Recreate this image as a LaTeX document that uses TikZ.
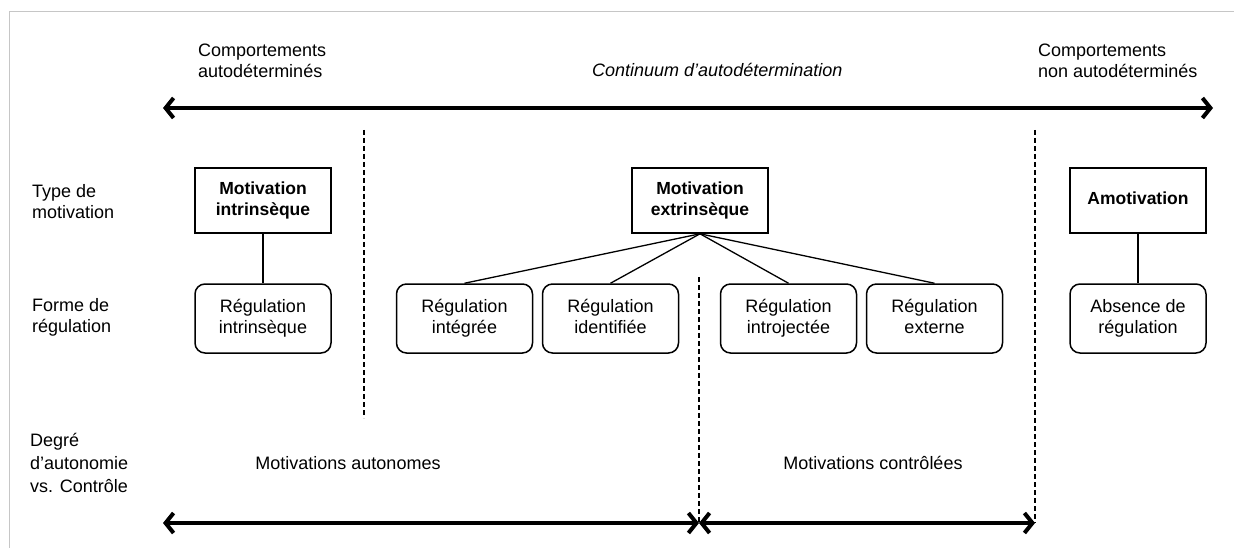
\documentclass[tikz,border=0pt]{standalone}
\usepackage{fontspec}
\setmainfont{Liberation Sans}
\usetikzlibrary{arrows.meta}

\begin{document}
\begin{tikzpicture}[x=1pt,y=-1pt,
    font=\fontsize{18}{21}\selectfont,
    typebox/.style={draw,line width=1.6pt,minimum width=136pt,minimum height=65pt,
        align=center,text height=34pt,text depth=4.5pt,
        font=\fontsize{17.5}{21}\selectfont\bfseries},
    regbox/.style={draw,line width=1.5pt,rounded corners=10pt,minimum width=136pt,
        minimum height=69pt,align=center,text height=34pt,text depth=4.5pt},
    lab/.style={anchor=west,align=left,inner sep=0pt},
    sep/.style={line width=1.3pt,dash pattern=on 5pt off 3pt},
    link/.style={line width=1.3pt},
    big/.style={line width=4pt,
        {Straight Barb[length=8pt,width=20pt]}-{Straight Barb[length=8pt,width=20pt]}}]
    \useasboundingbox (0,0) rectangle (1234,548);
    \draw[gray!45,line width=1pt] (1234,12) -- (9,12) -- (9,548);

    % en-tetes
    \node[lab] (cad) at (198,61) {Comportements\\autodéterminés};
    \node[lab] (cnad) at (1038,61) {Comportements\\non autodéterminés};
    \node[lab,font=\fontsize{18}{21}\selectfont\itshape] (cont) at (592,70)
        {Continuum d'autodétermination};

    % libelles des lignes
    \node[lab] (ltype) at (32,202) {Type de\\motivation};
    \node[lab] (lforme) at (32,317) {Forme de\\régulation};
    \node[lab,font=\fontsize{18}{23}\selectfont] (ldeg) at (30,463)
        {Degré\\d'autonomie\\vs. Contrôle};

    % types de motivation
    \node[typebox] (mi) at (263,200.5) {Motivation\\intrinsèque};
    \node[typebox] (me) at (700,200.5) {Motivation\\extrinsèque};
    \node[typebox,text height=13pt] (am) at (1138,200.5) {Amotivation};

    % formes de regulation
    \node[regbox] (ri) at (263,318.5) {Régulation\\intrinsèque};
    \node[regbox] (rint) at (464.5,318.5) {Régulation\\intégrée};
    \node[regbox] (rid) at (610.5,318.5) {Régulation\\identifiée};
    \node[regbox] (rintro) at (788.5,318.5) {Régulation\\introjectée};
    \node[regbox] (rext) at (934.5,318.5) {Régulation\\externe};
    \node[regbox] (ar) at (1138,318.5) {Absence de\\régulation};

    \draw[link] (mi) -- (ri);
    \draw[link] (am) -- (ar);
    \foreach \n in {rint,rid,rintro,rext}
        \draw[link] (me.south) -- (\n.north);

    % autonomie vs controle
    \node (auto) at (348,463) {Motivations autonomes};
    \node (ctrl) at (873,463) {Motivations contrôlées};

    % separations
    \coordinate (s1a) at (364,130);
    \coordinate (s1b) at (364,418);
    \coordinate (s2a) at (699,277);
    \coordinate (s2b) at (699,523);
    \coordinate (s3a) at (1035,130);
    \coordinate (s3b) at (1035,523);
    \draw[sep] (s1a) -- (s1b);
    \draw[sep] (s2a) -- (s2b);
    \draw[sep] (s3a) -- (s3b);

    % fleches
    \coordinate (tl) at (163,108);
    \coordinate (tr) at (1213,108);
    \coordinate (bl) at (163,523);
    \draw[big] (tl) -- (tr);
    \draw[big] (bl) -- (s2b);
    \draw[big] (s2b) -- (s3b);
\end{tikzpicture}
\end{document}
